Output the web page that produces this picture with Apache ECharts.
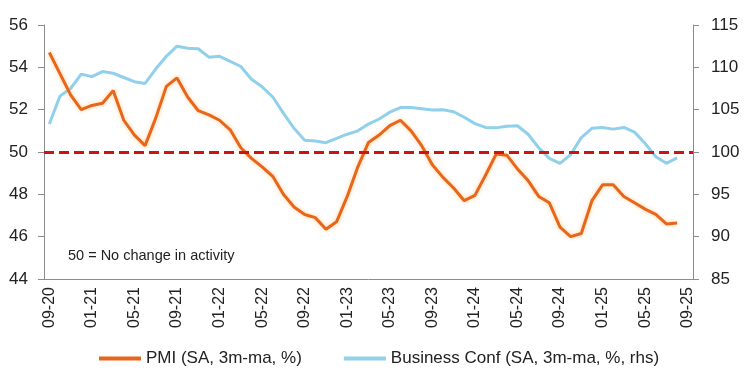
<!DOCTYPE html>
<html>
<head>
<meta charset="utf-8">
<script src="https://cdn.jsdelivr.net/npm/echarts@6/dist/echarts.min.js"></script>
<style>
html,body{margin:0;padding:0;background:#fff;}
#chart{width:744px;height:384px;}
</style>
</head>
<body>
<div id="chart"></div>
<script>
const months = ['09-20','10-20','11-20','12-20',
 '01-21','02-21','03-21','04-21','05-21','06-21','07-21','08-21','09-21','10-21','11-21','12-21',
 '01-22','02-22','03-22','04-22','05-22','06-22','07-22','08-22','09-22','10-22','11-22','12-22',
 '01-23','02-23','03-23','04-23','05-23','06-23','07-23','08-23','09-23','10-23','11-23','12-23',
 '01-24','02-24','03-24','04-24','05-24','06-24','07-24','08-24','09-24','10-24','11-24','12-24',
 '01-25','02-25','03-25','04-25','05-25','06-25','07-25','08-25','09-25'];

const pmi = [54.7,53.7,52.7,52.0,52.2,52.3,52.9,51.5,50.8,50.3,
 51.6,53.1,53.5,52.6,51.95,51.75,51.5,51.05,50.2,49.7,
 49.3,48.85,48.0,47.4,47.05,46.9,46.35,46.7,47.9,49.3,
 50.45,50.8,51.25,51.5,51.0,50.3,49.4,48.8,48.3,47.7,
 47.95,48.9,49.9,49.85,49.2,48.65,47.9,47.6,46.45,46.0,
 46.15,47.7,48.45,48.45,47.9,47.6,47.3,47.05,46.6,46.65];

const businessConf = [103.3,106.6,107.5,109.2,108.9,109.5,109.3,108.8,108.3,108.1,
 109.8,111.3,112.5,112.25,112.2,111.2,111.3,110.7,110.1,108.6,
 107.7,106.5,104.6,102.8,101.4,101.3,101.1,101.6,102.1,102.5,
 103.3,103.9,104.7,105.25,105.25,105.1,104.95,105.0,104.75,104.1,
 103.35,102.9,102.85,103.05,103.1,102.1,100.5,99.25,98.66,99.7,
 101.7,102.8,102.9,102.7,102.9,102.35,101.0,99.45,98.66,99.3];

const leftTicks = {min:44, max:56, interval:2};
const rightTicks = {min:85, max:115, interval:5};
const threshold = 50;
const noteText = '50 = No change in activity';

const FONT = 'Liberation Sans';
const TXT = '#222';
const AX = '#8c8c8c';

const chart = echarts.init(document.getElementById('chart'), null, {renderer:'canvas'});
chart.setOption({
  animation:false,
  backgroundColor:'#fff',
  textStyle:{fontFamily:FONT},
  grid:{left:44,right:51,top:25,bottom:105},
  legend:{
    top:350,left:99,padding:0,itemWidth:42,itemHeight:4,itemGap:42,icon:'rect',
    textStyle:{fontFamily:FONT,fontSize:17,color:TXT},
    data:['PMI (SA, 3m-ma, %)','Business Conf (SA, 3m-ma, %, rhs)']
  },
  xAxis:{
    type:'category',data:months,boundaryGap:true,
    axisLine:{lineStyle:{color:AX,width:1}},
    axisTick:{interval:3,length:6,lineStyle:{color:AX}},
    axisLabel:{interval:3,rotate:90,margin:8,fontSize:16,color:TXT,fontFamily:FONT}
  },
  yAxis:[{
    type:'value',min:leftTicks.min,max:leftTicks.max,interval:leftTicks.interval,position:'left',
    axisLine:{show:true,lineStyle:{color:AX}},
    axisTick:{show:true,length:6,lineStyle:{color:AX}},
    splitLine:{show:false},
    axisLabel:{margin:16,fontSize:17,color:TXT,fontFamily:FONT}
  },{
    type:'value',min:rightTicks.min,max:rightTicks.max,interval:rightTicks.interval,position:'right',
    axisLine:{show:true,lineStyle:{color:AX}},
    axisTick:{show:true,length:6,lineStyle:{color:AX}},
    splitLine:{show:false},
    axisLabel:{margin:18,fontSize:17,color:TXT,fontFamily:FONT}
  }],
  series:[{
    name:'Business Conf (SA, 3m-ma, %, rhs)',type:'line',yAxisIndex:1,data:businessConf,
    showSymbol:false,symbol:'none',
    lineStyle:{color:'#90d0ea',width:3},itemStyle:{color:'#90d0ea'},z:2
  },{
    name:'PMI (SA, 3m-ma, %)',type:'line',yAxisIndex:0,data:pmi,
    showSymbol:false,symbol:'none',
    lineStyle:{color:'#e8661c',width:3,shadowColor:'rgba(255,190,110,0.7)',shadowBlur:4},
    itemStyle:{color:'#e8661c'},z:3,
    markLine:{
      silent:true,symbol:['none','none'],label:{show:false},
      lineStyle:{color:'#cc1414',width:3,type:[10,5]},
      data:[{yAxis:threshold}]
    }
  }],
  graphic:[{
    type:'text',left:68,top:248,
    style:{text:noteText,fontFamily:FONT,fontSize:14.5,fill:TXT}
  }]
});
</script>
</body>
</html>
